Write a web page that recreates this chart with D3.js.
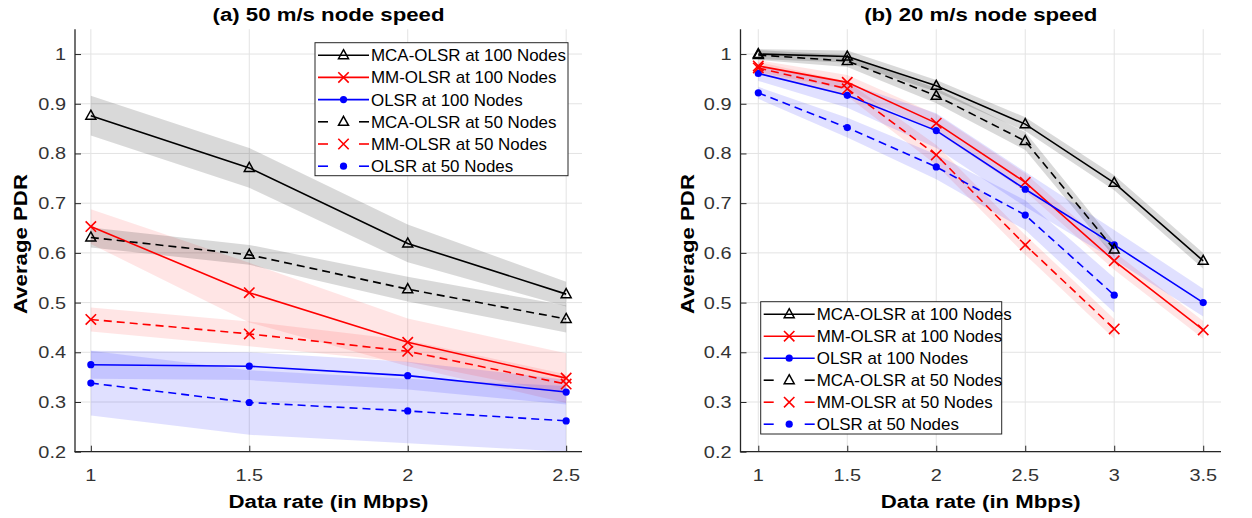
<!DOCTYPE html>
<html>
<head>
<meta charset="utf-8">
<script src="https://cdn.jsdelivr.net/npm/d3@7"></script>
<style>
  html, body { margin: 0; padding: 0; background: #fff; }
  svg { display: block; }
  text { font-family: "Liberation Sans", Arial, Helvetica, sans-serif; }
</style>
</head>
<body>
<svg id="chart" width="1252" height="518"></svg>
<script>
// ---------------- DATA ----------------
const seriesNames = ["MCA-OLSR at 100 Nodes", "MM-OLSR at 100 Nodes", "OLSR at 100 Nodes",
                     "MCA-OLSR at 50 Nodes", "MM-OLSR at 50 Nodes", "OLSR at 50 Nodes"];
const yTicks = [0.2, 0.3, 0.4, 0.5, 0.6, 0.7, 0.8, 0.9, 1];
const yTickLabels = ["0.2", "0.3", "0.4", "0.5", "0.6", "0.7", "0.8", "0.9", "1"];

// (a) 50 m/s node speed
const xA = [1, 1.5, 2, 2.5];
const xATickLabels = ["1", "1.5", "2", "2.5"];
const a_mca100 = [0.876, 0.771, 0.619, 0.517];
const a_mm100 = [0.653, 0.520, 0.420, 0.348];
const a_olsr100 = [0.375, 0.372, 0.353, 0.320];
const a_mca50 = [0.631, 0.596, 0.527, 0.467];
const a_mm50 = [0.466, 0.437, 0.402, 0.336];
const a_olsr50 = [0.338, 0.299, 0.282, 0.262];
// band half-widths
const a_mca100_err = [0.040, 0.040, 0.038, 0.025];
const a_mm100_err = [0.035, 0.060, 0.048, 0.050];
const a_olsr100_err = [0.028, 0.028, 0.028, 0.025];
const a_mca50_err = [0.020, 0.020, 0.025, 0.027];
const a_mm50_err = [0.024, 0.025, 0.022, 0.020];
const a_olsr50_err = [0.065, 0.065, 0.065, 0.070];

// (b) 20 m/s node speed
const xB100 = [1, 1.5, 2, 2.5, 3, 3.5];
const xB50 = [1, 1.5, 2, 2.5, 3];
const xBTickLabels = ["1", "1.5", "2", "2.5", "3", "3.5"];
const b_mca100 = [1.000, 0.995, 0.936, 0.859, 0.741, 0.584];
const b_mm100 = [0.976, 0.943, 0.861, 0.742, 0.584, 0.445];
const b_olsr100 = [0.961, 0.917, 0.846, 0.728, 0.616, 0.500];
const b_mca50 = [0.998, 0.986, 0.916, 0.825, 0.607];
const b_mm50 = [0.972, 0.930, 0.797, 0.616, 0.447];
const b_olsr50 = [0.922, 0.852, 0.773, 0.676, 0.515];
const b_mca100_err = [0.010, 0.012, 0.012, 0.014, 0.015, 0.016];
const b_mm100_err = [0.012, 0.015, 0.018, 0.018, 0.018, 0.018];
const b_olsr100_err = [0.015, 0.025, 0.035, 0.035, 0.030, 0.028];
const b_mca50_err = [0.010, 0.012, 0.015, 0.018, 0.015];
const b_mm50_err = [0.012, 0.015, 0.020, 0.020, 0.020];
const b_olsr50_err = [0.012, 0.020, 0.025, 0.030, 0.035];

// ---------------- STYLE ----------------
const colors = ["#000000", "#ff0000", "#0000ff", "#000000", "#ff0000", "#0000ff"];
const bandOpacity = [0.15, 0.10, 0.12, 0.15, 0.10, 0.12];
const markers = ["tri", "x", "dot", "tri", "x", "dot"];
const dashed = [false, false, false, true, true, true];
const SX = 1.17; // horizontal text stretch to match reference glyph widths

const svg = d3.select("#chart");
svg.append("rect").attr("width", 1252).attr("height", 518).attr("fill", "#fff");

function txt(g, x, y, s, opts) {
  const o = Object.assign({size: 17, weight: "normal", anchor: "middle", rotate: 0, fill: "#262626", sx: SX}, opts || {});
  const gg = g.append("g").attr("transform", `translate(${x},${y}) rotate(${o.rotate}) scale(${o.sx},1)`);
  gg.append("text").attr("x", 0).attr("y", 0)
    .attr("text-anchor", o.anchor)
    .attr("font-size", o.size).attr("font-weight", o.weight)
    .attr("fill", o.fill).text(s);
  return gg;
}

function drawMarker(g, type, x, y, color) {
  if (type === "tri") {
    g.append("path")
      .attr("d", `M${x},${y - 5.5}L${x + 5},${y + 3.5}L${x - 5},${y + 3.5}Z`)
      .attr("fill", "none").attr("stroke", color).attr("stroke-width", 1.5)
      .attr("stroke-linejoin", "miter");
  } else if (type === "x") {
    const r = 5.2;
    g.append("path")
      .attr("d", `M${x - r},${y - r}L${x + r},${y + r}M${x - r},${y + r}L${x + r},${y - r}`)
      .attr("stroke", color).attr("stroke-width", 1.6).attr("fill", "none");
  } else {
    g.append("circle").attr("cx", x).attr("cy", y).attr("r", 3.6).attr("fill", color);
  }
}

function panel(cfg) {
  const g = svg.append("g");
  const x = d3.scaleLinear().domain(cfg.xDomain).range(cfg.xRange);
  const y = d3.scaleLinear().domain([0.2, 1.05]).range([451.7, 29.2]);
  const x0 = cfg.xRange[0], x1 = cfg.xRange[1], yb = 451.7, yt = 29.2;

  // grid
  g.append("g").selectAll("line").data(cfg.xTicks).join("line")
    .attr("x1", d => x(d)).attr("x2", d => x(d)).attr("y1", yt).attr("y2", yb)
    .attr("stroke", "#e3e3e3").attr("stroke-width", 1);
  g.append("g").selectAll("line").data(yTicks).join("line")
    .attr("x1", x0).attr("x2", x1).attr("y1", d => y(d)).attr("y2", d => y(d))
    .attr("stroke", "#e3e3e3").attr("stroke-width", 1);

  const series = cfg.series;
  // bands
  series.forEach((s, i) => {
    const pts = s.xs.map((xv, k) => ({x: xv, y: s.ys[k], e: s.err[k]}));
    const area = d3.area().x(d => x(d.x)).y0(d => y(Math.max(0.2, d.y - d.e))).y1(d => y(d.y + d.e));
    g.append("path").datum(pts).attr("d", area)
      .attr("fill", colors[i]).attr("fill-opacity", bandOpacity[i]).attr("stroke", "none");
  });
  // lines + markers
  series.forEach((s, i) => {
    const pts = s.xs.map((xv, k) => ({x: xv, y: s.ys[k]}));
    const line = d3.line().x(d => x(d.x)).y(d => y(d.y));
    g.append("path").datum(pts).attr("d", line)
      .attr("fill", "none").attr("stroke", colors[i]).attr("stroke-width", 1.6)
      .attr("stroke-dasharray", dashed[i] ? "8,5" : null);
    pts.forEach(p => drawMarker(g, markers[i], x(p.x), y(p.y), colors[i]));
  });

  // axes (MATLAB-like: ticks inward)
  const axY = d3.axisLeft(y).tickValues(yTicks).tickSize(-6).tickFormat("");
  const gy = g.append("g").attr("transform", `translate(${x0},0)`).call(axY);
  gy.select(".domain").remove();
  gy.selectAll("line").attr("stroke", "#262626");
  const axX = d3.axisBottom(x).tickValues(cfg.xTicks).tickSize(-6).tickFormat("");
  const gx = g.append("g").attr("transform", `translate(0,${yb})`).call(axX);
  gx.select(".domain").remove();
  gx.selectAll("line").attr("stroke", "#262626");
  g.append("line").attr("x1", x0).attr("x2", x0).attr("y1", yt).attr("y2", yb + 0.5)
    .attr("stroke", "#262626").attr("stroke-width", 1.3);
  g.append("line").attr("x1", x0 - 0.5).attr("x2", x1).attr("y1", yb).attr("y2", yb)
    .attr("stroke", "#262626").attr("stroke-width", 1.3);

  // tick labels
  yTicks.forEach((t, k) => txt(g, x0 - 9, y(t) + 6, yTickLabels[k], {anchor: "end", size: 17, fill: "#333"}));
  cfg.xTicks.forEach((t, k) => txt(g, x(t), 481, cfg.xTickLabels[k], {size: 17, fill: "#333"}));

  // labels
  const cx = (x0 + x1) / 2;
  txt(g, cx, 21, cfg.title, {size: 19, weight: "bold", fill: "#000"});
  txt(g, cx, 508, "Data rate (in Mbps)", {size: 19, weight: "bold", fill: "#000"});
  txt(g, cfg.yLabelX, 244, "Average PDR", {size: 19, weight: "bold", fill: "#000", rotate: -90});

  // legend
  const L = cfg.legend;
  const lg = g.append("g");
  lg.append("rect").attr("x", L.x).attr("y", L.y).attr("width", L.w).attr("height", L.h)
    .attr("fill", "#fff").attr("stroke", "#262626").attr("stroke-width", 1);
  seriesNames.forEach((name, i) => {
    const ry = L.y + 12.5 + i * L.dy;
    const lx0 = L.x + 3, lx1 = L.x + 54, mx = (lx0 + lx1) / 2;
    if (dashed[i]) {
      lg.append("line").attr("x1", lx0).attr("x2", lx0 + 10).attr("y1", ry).attr("y2", ry)
        .attr("stroke", colors[i]).attr("stroke-width", 1.6);
      lg.append("line").attr("x1", lx1 - 10).attr("x2", lx1).attr("y1", ry).attr("y2", ry)
        .attr("stroke", colors[i]).attr("stroke-width", 1.6);
    } else {
      lg.append("line").attr("x1", lx0).attr("x2", lx1).attr("y1", ry).attr("y2", ry)
        .attr("stroke", colors[i]).attr("stroke-width", 1.6);
    }
    drawMarker(lg, markers[i], mx, ry, colors[i]);
    txt(lg, lx1 + 2, ry + 6, name, {anchor: "start", size: 16, fill: "#000", sx: 1.06});
  });
}

panel({
  title: "(a) 50 m/s node speed",
  xDomain: [0.95, 2.55], xRange: [75, 582],
  xTicks: xA, xTickLabels: xATickLabels,
  yLabelX: 27,
  series: [
    {xs: xA, ys: a_mca100, err: a_mca100_err},
    {xs: xA, ys: a_mm100, err: a_mm100_err},
    {xs: xA, ys: a_olsr100, err: a_olsr100_err},
    {xs: xA, ys: a_mca50, err: a_mca50_err},
    {xs: xA, ys: a_mm50, err: a_mm50_err},
    {xs: xA, ys: a_olsr50, err: a_olsr50_err}
  ],
  legend: {x: 315, y: 42.7, w: 253, h: 133, dy: 22.2}
});

panel({
  title: "(b) 20 m/s node speed",
  xDomain: [0.9, 3.6], xRange: [740.5, 1221],
  xTicks: xB100, xTickLabels: xBTickLabels,
  yLabelX: 694,
  series: [
    {xs: xB100, ys: b_mca100, err: b_mca100_err},
    {xs: xB100, ys: b_mm100, err: b_mm100_err},
    {xs: xB100, ys: b_olsr100, err: b_olsr100_err},
    {xs: xB50, ys: b_mca50, err: b_mca50_err},
    {xs: xB50, ys: b_mm50, err: b_mm50_err},
    {xs: xB50, ys: b_olsr50, err: b_olsr50_err}
  ],
  legend: {x: 760.7, y: 301.7, w: 241, h: 132.3, dy: 22}
});
</script>
</body>
</html>
